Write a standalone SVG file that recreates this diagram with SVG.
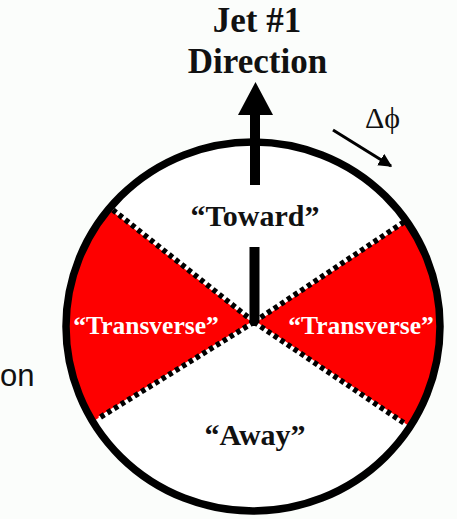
<svg xmlns="http://www.w3.org/2000/svg" width="457" height="519" viewBox="0 0 457 519">
  <style>
    .lbl { font-family: "Liberation Serif", "Times New Roman", serif; font-weight: bold; text-anchor: middle; }
    .dark { fill: #111; }
    .light { fill: #ffffff; }
    .dots { stroke: #000; stroke-width: 5.5; stroke-dasharray: 4.5 3.5; fill: none; }
    .dotsbg { stroke: #ffffff; stroke-width: 3; fill: none; }
  </style>
  <defs>
    <clipPath id="disk">
      <ellipse cx="253" cy="326.5" rx="187" ry="184.5"/>
    </clipPath>
    <marker id="head" viewBox="0 0 10 10" refX="9" refY="5" markerWidth="4.5" markerHeight="4.5" orient="auto" markerUnits="strokeWidth">
      <path d="M0,0 L10,5 L0,10 z" fill="#000"/>
    </marker>
  </defs>
  <rect x="0" y="0" width="457" height="519" fill="#fbfdfb"/>

  <g id="disk-group">
    <ellipse cx="253" cy="326.5" rx="187" ry="184.5" fill="#ffffff"/>
    <g clip-path="url(#disk)">
      <polygon id="transverse-left-sector" points="254,322 -28,98 -54,512" fill="#fe0000"/>
      <polygon id="transverse-right-sector" points="254,322 552,124 552,522" fill="#fe0000"/>
    </g>
  </g>

  <g id="connectors">
    <g id="sector-boundaries">
      <path class="dotsbg" d="M254,322 L113,210 M254,322 L99,418 M254,322 L404,222 M254,322 L404,423"/>
      <path class="dots" d="M254,322 L113,210 M254,322 L99,418 M254,322 L404,222 M254,322 L404,423"/>
    </g>
    <ellipse cx="253" cy="326.5" rx="187" ry="184.5" fill="none" stroke="#000" stroke-width="7.5"/>
    <g id="jet-arrow">
      <rect x="250" y="113" width="10" height="72" fill="#000"/>
      <polygon points="255.5,82 238,115 273,115" fill="#000"/>
      <rect x="249.5" y="247" width="10" height="76" fill="#000"/>
    </g>
    <line id="dphi-arrow" x1="333" y1="130" x2="391" y2="166" stroke="#000" stroke-width="3" marker-end="url(#head)"/>
  </g>

  <g id="jet-label">
    <text class="lbl dark" x="257" y="32" font-size="35">Jet #1</text>
    <text class="lbl dark" x="257.5" y="73" font-size="35">Direction</text>
  </g>
  <g id="dphi-label">
    <text x="365" y="128" font-family="Liberation Serif, serif" font-size="30" fill="#111">Δϕ</text>
  </g>
  <g id="toward">
    <text class="lbl dark" x="255" y="226" font-size="30">“Toward”</text>
  </g>
  <g id="transverse-left">
    <text class="lbl light" x="146" y="334" font-size="25.5">“Transverse”</text>
  </g>
  <g id="transverse-right">
    <text class="lbl light" x="361" y="334" font-size="25.5">“Transverse”</text>
  </g>
  <g id="away">
    <text class="lbl dark" x="255" y="445" font-size="30">“Away”</text>
  </g>
  <text x="0" y="386" font-family="Liberation Sans, Arial, sans-serif" font-size="31" fill="#111">on</text>
</svg>
